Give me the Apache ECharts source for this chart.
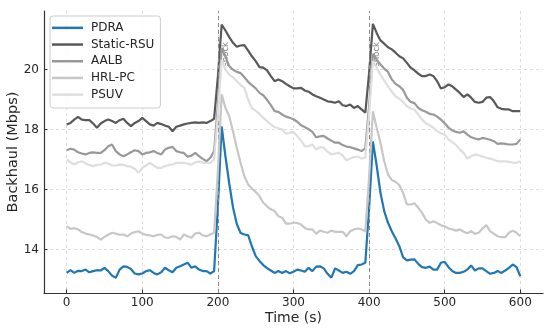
<!DOCTYPE html>
<html>
<head>
<meta charset="utf-8">
<script src="https://cdn.jsdelivr.net/npm/echarts@6/dist/echarts.min.js"></script>
<style>html,body{margin:0;padding:0;background:#fff}#c{width:550px;height:331px}</style>
</head>
<body>
<div id="c"></div>
<script>
const seriesNames = ['PDRA', 'Static-RSU', 'AALB', 'HRL-PC', 'PSUV'];
const xTicks = [0, 100, 200, 300, 400, 500, 600];
const yTicks = [14, 16, 18, 20];
const shockTimes = [200, 400];
const times = [0,5,10,15,20,25,30,35,40,45,50,55,60,65,70,75,80,85,90,95,100,105,110,115,120,125,130,135,140,145,150,155,160,165,170,175,180,185,190,195,200,205,210,215,220,225,230,235,240,245,250,255,260,265,270,275,280,285,290,295,300,305,310,315,320,325,330,335,340,345,350,355,360,365,370,375,380,385,390,395,400,405,410,415,420,425,430,435,440,445,450,455,460,465,470,475,480,485,490,495,500,505,510,515,520,525,530,535,540,545,550,555,560,565,570,575,580,585,590,595,600];

const pdra = [
13.22,13.31,13.22,13.29,13.28,13.33,13.24,13.28,13.31,13.30,
13.39,13.28,13.13,13.06,13.33,13.44,13.42,13.35,13.20,13.17,
13.20,13.28,13.31,13.22,13.17,13.24,13.39,13.31,13.24,13.39,
13.44,13.50,13.56,13.39,13.44,13.33,13.28,13.28,13.20,13.28,
15.45,
18.10,17.10,16.20,15.40,14.85,14.55,14.50,14.48,14.10,13.78,
13.62,13.48,13.38,13.30,13.22,13.28,13.22,13.28,13.21,13.26,
13.33,13.30,13.26,13.39,13.28,13.43,13.44,13.37,13.19,13.06,
13.37,13.30,13.22,13.26,13.19,13.28,13.48,13.50,13.56,15.38,
17.60,16.80,15.89,15.28,14.89,14.61,14.37,14.11,13.74,13.64,
13.66,13.67,13.52,13.41,13.39,13.43,13.33,13.33,13.56,13.59,
13.41,13.28,13.22,13.22,13.26,13.33,13.47,13.30,13.37,13.37,
13.28,13.19,13.22,13.28,13.22,13.30,13.39,13.50,13.41,13.11];

const staticRsu = [
18.17,18.22,18.33,18.42,18.33,18.31,18.31,18.20,18.06,18.20,
18.28,18.33,18.28,18.22,18.31,18.36,18.22,18.11,18.22,18.28,
18.39,18.28,18.17,18.13,18.22,18.18,18.13,18.09,17.94,18.09,
18.13,18.17,18.20,18.22,18.24,18.22,18.24,18.22,18.28,18.36,
19.77,
21.50,21.30,21.08,20.89,20.76,20.80,20.81,20.63,20.44,20.28,
20.08,20.06,19.97,19.78,19.61,19.67,19.61,19.52,19.44,19.37,
19.37,19.39,19.30,19.26,19.17,19.11,19.06,19.00,18.94,18.92,
18.89,18.94,18.81,18.78,18.83,18.72,18.78,18.67,18.56,19.89,
21.52,21.22,20.97,20.86,20.74,20.67,20.56,20.44,20.37,20.22,
20.06,19.97,19.86,19.78,19.78,19.83,19.78,19.61,19.37,19.41,
19.50,19.44,19.33,19.22,19.08,19.17,19.06,18.92,18.89,18.92,
19.06,19.08,18.94,18.74,18.69,18.67,18.67,18.61,18.61,18.61];

const aalb = [
17.31,17.36,17.33,17.24,17.20,17.17,17.22,17.24,17.22,17.22,
17.31,17.44,17.50,17.28,17.17,17.11,17.17,17.24,17.31,17.28,
17.17,17.22,17.24,17.28,17.22,17.17,17.33,17.39,17.42,17.28,
17.24,17.22,17.09,17.13,17.22,17.11,17.02,16.94,17.06,17.28,
18.83,
20.72,20.44,20.11,19.99,19.92,19.88,19.74,19.59,19.48,19.37,
19.22,19.14,18.99,18.81,18.61,18.59,18.50,18.43,18.39,18.34,
18.26,18.14,18.08,18.01,17.92,17.74,17.77,17.79,17.70,17.63,
17.56,17.56,17.48,17.43,17.41,17.37,17.33,17.28,17.37,18.79,
20.52,20.33,20.17,20.03,19.92,19.67,19.52,19.44,19.32,19.06,
18.92,18.88,18.72,18.64,18.59,18.52,18.50,18.43,18.33,18.21,
18.06,17.97,17.92,17.89,17.94,17.83,17.74,17.70,17.67,17.72,
17.69,17.66,17.61,17.52,17.54,17.52,17.50,17.50,17.52,17.67];

const hrlpc = [
14.78,14.69,14.71,14.67,14.58,14.53,14.50,14.47,14.42,14.33,
14.42,14.49,14.56,14.53,14.49,14.50,14.44,14.53,14.58,14.61,
14.53,14.49,14.47,14.44,14.49,14.50,14.40,14.39,14.44,14.42,
14.33,14.50,14.44,14.39,14.53,14.56,14.47,14.44,14.50,14.56,
16.63,
19.17,18.72,18.44,17.94,17.39,16.89,16.44,16.17,16.03,15.92,
15.78,15.56,15.44,15.34,15.28,15.11,15.06,14.86,14.86,14.90,
14.88,14.83,14.72,14.67,14.67,14.52,14.63,14.59,14.56,14.63,
14.59,14.59,14.59,14.44,14.61,14.67,14.70,14.67,14.61,16.41,
18.61,18.06,17.56,16.94,16.50,16.32,16.26,16.14,15.89,15.50,
15.50,15.54,15.39,15.22,15.00,14.89,14.94,14.88,14.81,14.77,
14.70,14.67,14.63,14.67,14.59,14.54,14.61,14.52,14.56,14.70,
14.81,14.61,14.52,14.44,14.41,14.41,14.56,14.63,14.56,14.44];

const psuv = [
17.00,16.91,16.83,16.91,16.94,16.87,16.82,16.78,16.82,16.83,
16.89,16.87,16.80,16.80,16.83,16.82,16.78,16.76,16.69,16.56,
16.72,16.80,16.89,16.80,16.72,16.72,16.78,16.82,16.83,16.89,
16.89,16.89,16.86,16.83,16.91,16.93,16.89,16.89,16.89,17.00,
18.50,
20.33,20.00,19.83,19.74,19.61,19.48,19.39,19.00,18.70,18.63,
18.52,18.39,18.28,18.17,18.08,18.03,18.00,17.86,17.89,17.92,
17.78,17.63,17.44,17.44,17.50,17.33,17.41,17.39,17.26,17.17,
17.20,17.22,17.14,16.97,17.03,17.08,17.10,17.03,17.06,18.51,
20.28,20.06,19.83,19.63,19.44,19.26,19.11,19.03,18.92,18.77,
18.70,18.66,18.50,18.33,18.21,18.14,18.06,17.94,17.87,17.83,
17.67,17.58,17.48,17.33,17.22,17.03,17.11,17.17,17.14,17.10,
17.06,17.03,16.99,16.94,16.94,16.94,16.92,16.89,16.89,16.94];

const allValues = [pdra, staticRsu, aalb, hrlpc, psuv];
const colors = ['#1f77b4', '#595959', '#999999', '#c7c7c7', '#dedede'];
const FONT = 'DejaVu Sans';
const TXT = '#262626';

const series = seriesNames.map((name, i) => ({
  name: name,
  type: 'line',
  showSymbol: false,
  symbol: 'none',
  data: times.map((t, k) => [t, allValues[i][k]]),
  lineStyle: { width: 2.2, color: colors[i] },
  itemStyle: { color: colors[i] },
  z: 3 + i
}));

series.push({
  name: 'shockLines',
  type: 'line',
  data: [],
  z: 10,
  markLine: {
    silent: true,
    symbol: ['none', 'none'],
    animation: false,
    lineStyle: { type: [4, 3], color: '#8a8a8a', width: 1 },
    label: {
      show: true,
      formatter: 'shock',
      position: 'insideEndBottom',
      distance: [31, 3],
      fontFamily: FONT,
      fontSize: 8.5,
      color: '#808080'
    },
    data: shockTimes.map(t => ({ xAxis: t }))
  }
});

const chart = echarts.init(document.getElementById('c'), null, { renderer: 'canvas' });
chart.setOption({
  animation: false,
  backgroundColor: '#ffffff',
  grid: { left: 44, right: 7, top: 11, bottom: 38, containLabel: false, outerBoundsMode: 'none' },
  legend: {
    data: seriesNames,
    orient: 'vertical',
    left: 50,
    top: 16,
    icon: 'rect',
    itemWidth: 31,
    itemHeight: 2.5,
    itemGap: 0,
    padding: [3.5, 6, 5, 2],
    backgroundColor: 'rgba(255,255,255,0.85)',
    borderColor: '#cccccc',
    borderWidth: 1,
    borderRadius: 3,
    textStyle: { fontFamily: FONT, fontSize: 12, color: TXT, lineHeight: 16.7, padding: [0, 0, 0, 3] }
  },
  xAxis: {
    type: 'value',
    min: -30,
    max: 630,
    name: 'Time (s)',
    nameLocation: 'middle',
    nameGap: 18,
    nameMoveOverlap: false,
    nameTextStyle: { fontFamily: FONT, fontSize: 14, color: TXT },
    axisLine: { show: true, onZero: false, lineStyle: { color: '#333333', width: 1.2 } },
    axisTick: { show: true, inside: true, length: 3.5, customValues: xTicks, lineStyle: { color: '#333333' } },
    axisLabel: { customValues: xTicks, fontFamily: FONT, fontSize: 12, color: TXT, margin: 4 },
    splitLine: { show: true, customValues: xTicks, lineStyle: { type: [3, 3], color: '#d5d5d5', width: 0.8 } }
  },
  yAxis: {
    type: 'value',
    min: 12.55,
    max: 21.95,
    name: 'Backhaul (Mbps)',
    nameLocation: 'middle',
    nameGap: 23,
    nameMoveOverlap: false,
    nameTextStyle: { fontFamily: FONT, fontSize: 14.5, color: TXT },
    axisLine: { show: true, onZero: false, lineStyle: { color: '#333333', width: 1.2 } },
    axisTick: { show: true, inside: true, length: 3.5, customValues: yTicks, lineStyle: { color: '#333333' } },
    axisLabel: { customValues: yTicks, fontFamily: FONT, fontSize: 12, color: TXT, margin: 5 },
    splitLine: { show: true, customValues: yTicks, lineStyle: { type: [3, 3], color: '#d5d5d5', width: 0.8 } }
  },
  series: series
});
</script>
</body>
</html>
